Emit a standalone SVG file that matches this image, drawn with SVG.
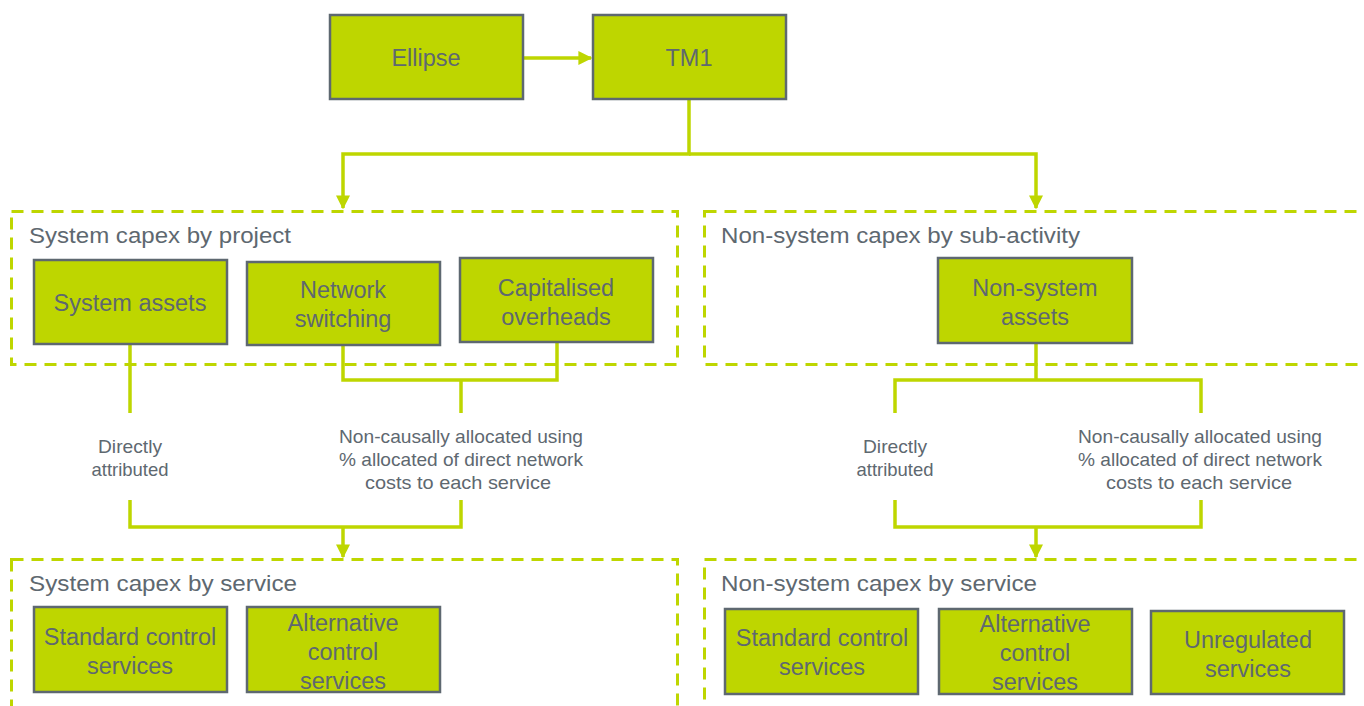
<svg xmlns="http://www.w3.org/2000/svg" width="1364" height="706" viewBox="0 0 1364 706">
<style>
.box{fill:#BED600;stroke:#5E6870;stroke-width:2.5}
.bt{font-family:"Liberation Sans",Arial,sans-serif;font-size:23.5px;fill:#5E6870;text-anchor:middle}
.hd{font-family:"Liberation Sans",Arial,sans-serif;font-size:22px;fill:#5E6870}
.lb{font-family:"Liberation Sans",Arial,sans-serif;font-size:19px;fill:#5E6870;text-anchor:middle}
.dash{fill:none;stroke:#BED600;stroke-width:3;stroke-dasharray:12 8}
.ln{fill:none;stroke:#BED600;stroke-width:3.5}
</style>
<defs>
<marker id="ah" viewBox="0 0 10 10" refX="9" refY="5" markerWidth="4" markerHeight="4" orient="auto" markerUnits="strokeWidth">
<path d="M0,0 L10,5 L0,10 Z" fill="#BED600"/>
</marker>
</defs>
<g id="groups">
<rect id="g-sys-proj" class="dash" x="11.5" y="211.5" width="666" height="153"/>
<rect id="g-nonsys-act" class="dash" x="704.5" y="211.5" width="680" height="153"/>
<rect id="g-sys-serv" class="dash" x="11.5" y="559.5" width="666" height="170"/>
<rect id="g-nonsys-serv" class="dash" x="704.5" y="559.5" width="680" height="170"/>
<text class="hd" x="29" y="243" textLength="262" lengthAdjust="spacingAndGlyphs">System capex by project</text>
<text class="hd" x="721" y="243" textLength="359" lengthAdjust="spacingAndGlyphs">Non-system capex by sub-activity</text>
<text class="hd" x="29" y="591" textLength="268" lengthAdjust="spacingAndGlyphs">System capex by service</text>
<text class="hd" x="721" y="591" textLength="316" lengthAdjust="spacingAndGlyphs">Non-system capex by service</text>
</g>
<g id="connectors">
<path class="ln" d="M523,58 H591" marker-end="url(#ah)"/>
<path class="ln" d="M689,99 V154 H343 V208" marker-end="url(#ah)"/>
<path class="ln" d="M689,154 H1036 V208" marker-end="url(#ah)"/>
<path class="ln" d="M130,344 V413"/>
<path class="ln" d="M343,345 V380 H557 V342"/>
<path class="ln" d="M461,380 V413"/>
<path class="ln" d="M130,500 V527 H461 V500"/>
<path class="ln" d="M343,527 V557" marker-end="url(#ah)"/>
<path class="ln" d="M1036,343 V380"/>
<path class="ln" d="M895,413 V380 H1201 V413"/>
<path class="ln" d="M895,500 V527 H1201 V500"/>
<path class="ln" d="M1036,527 V557" marker-end="url(#ah)"/>
<text class="lb" x="130" y="453" textLength="64" lengthAdjust="spacingAndGlyphs">Directly</text>
<text class="lb" x="130" y="476" textLength="77" lengthAdjust="spacingAndGlyphs">attributed</text>
<text class="lb" x="461" y="443" textLength="244" lengthAdjust="spacingAndGlyphs">Non-causally allocated using</text>
<text class="lb" x="461" y="466" textLength="244" lengthAdjust="spacingAndGlyphs">% allocated of direct network</text>
<text class="lb" x="458" y="489" textLength="186" lengthAdjust="spacingAndGlyphs">costs to each service</text>
<text class="lb" x="895" y="453" textLength="64" lengthAdjust="spacingAndGlyphs">Directly</text>
<text class="lb" x="895" y="476" textLength="77" lengthAdjust="spacingAndGlyphs">attributed</text>
<text class="lb" x="1200" y="443" textLength="244" lengthAdjust="spacingAndGlyphs">Non-causally allocated using</text>
<text class="lb" x="1200" y="466" textLength="244" lengthAdjust="spacingAndGlyphs">% allocated of direct network</text>
<text class="lb" x="1199" y="489" textLength="186" lengthAdjust="spacingAndGlyphs">costs to each service</text>
</g>
<g id="n-ellipse"><rect class="box" x="330" y="15" width="193" height="84"/><text class="bt" x="426" y="66">Ellipse</text></g>
<g id="n-tm1"><rect class="box" x="593" y="15" width="193" height="84"/><text class="bt" x="689" y="66">TM1</text></g>
<g id="n-system-assets"><rect class="box" x="34" y="260" width="193" height="84"/><text class="bt" x="130" y="311">System assets</text></g>
<g id="n-network-switching"><rect class="box" x="247" y="262" width="193" height="83"/><text class="bt" x="343" y="298">Network</text><text class="bt" x="343" y="327">switching</text></g>
<g id="n-cap-overheads"><rect class="box" x="460" y="258" width="193" height="84"/><text class="bt" x="556" y="296">Capitalised</text><text class="bt" x="556" y="325">overheads</text></g>
<g id="n-nonsys-assets"><rect class="box" x="938" y="258" width="194" height="85"/><text class="bt" x="1035" y="296">Non-system</text><text class="bt" x="1035" y="325">assets</text></g>
<g id="n-std-left"><rect class="box" x="34" y="607" width="193" height="85"/><text class="bt" x="130" y="645">Standard control</text><text class="bt" x="130" y="674">services</text></g>
<g id="n-alt-left"><rect class="box" x="247" y="607" width="193" height="85"/><text class="bt" x="343" y="631">Alternative</text><text class="bt" x="343" y="660">control</text><text class="bt" x="343" y="689">services</text></g>
<g id="n-std-right"><rect class="box" x="725" y="609" width="193" height="85"/><text class="bt" x="822" y="646">Standard control</text><text class="bt" x="822" y="675">services</text></g>
<g id="n-alt-right"><rect class="box" x="939" y="609" width="193" height="85"/><text class="bt" x="1035" y="632">Alternative</text><text class="bt" x="1035" y="661">control</text><text class="bt" x="1035" y="690">services</text></g>
<g id="n-unreg"><rect class="box" x="1151" y="611" width="193" height="83"/><text class="bt" x="1248" y="648">Unregulated</text><text class="bt" x="1248" y="677">services</text></g>
</svg>
